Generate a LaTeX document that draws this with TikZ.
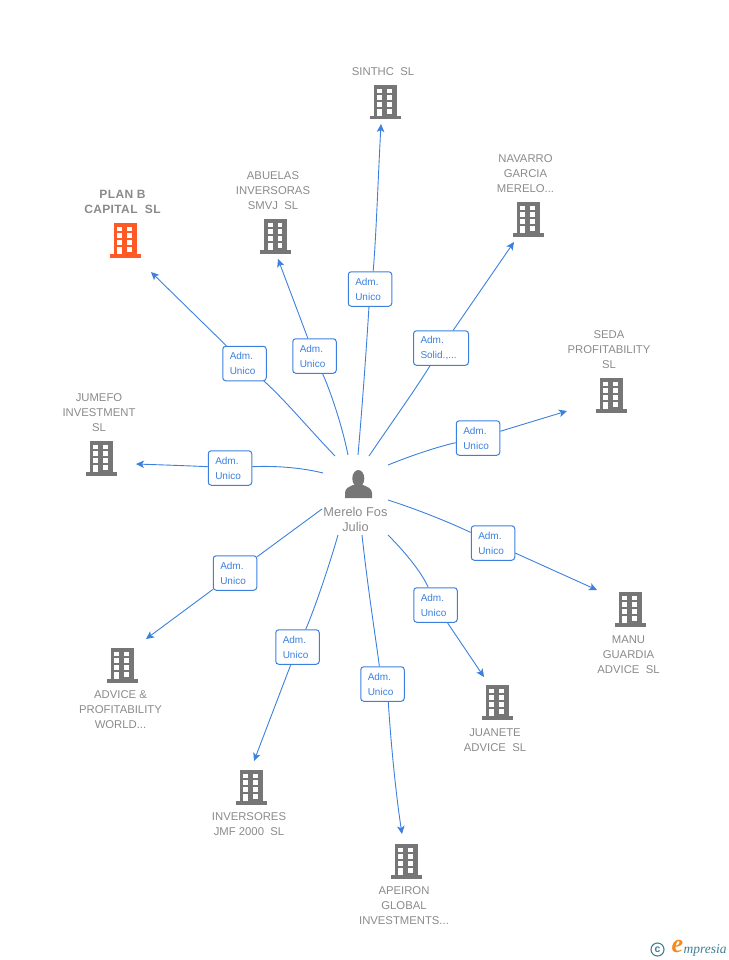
\documentclass[tikz,border=0pt]{standalone}
\usepackage{fontspec}
\setmainfont{Liberation Sans}
\newfontfamily\logofont{Liberation Serif}
\usetikzlibrary{arrows.meta}
\definecolor{linkblue}{HTML}{3C80DF}
\definecolor{iconGrey}{HTML}{767676}
\definecolor{txtGrey}{HTML}{8A8A8A}
\definecolor{planRed}{HTML}{FF5A26}
\definecolor{logoTeal}{HTML}{3F7F95}
\definecolor{logoOrange}{HTML}{F28A1E}
\tikzset{
  x=1pt,y=-1pt,
  rolebox/.style={draw=linkblue,line width=1pt,rounded corners=3pt,fill=white,text width=29.5pt,inner xsep=7pt,inner ysep=0pt,minimum height=34.5pt,text=linkblue,font=\fontsize{10}{15}\selectfont,align=left},
  link/.style={draw=linkblue,line width=0.9pt},
  arrowlink/.style={link,-{Stealth[length=8pt,width=7.5pt,inset=2pt]}},
  firm/.style={text=txtGrey,font=\fontsize{11.3}{15}\selectfont,align=center,inner sep=0pt},
}
\newcommand{\bldg}[4]{%
  \begin{scope}[shift={(#2,#3)}]
    \fill[#4] (-11.5,0) rectangle (11.5,31);
    \fill[#4] (-15.5,31) rectangle (15.5,34.5);
    \foreach \yy in {3.6,10.4,17.2}{
      \fill[white] (-7.8,\yy) rectangle (-3,\yy+4.6);
      \fill[white] (2,\yy) rectangle (6.8,\yy+4.6);
    }
    \fill[white] (-7.8,24) rectangle (-3,31);
    \fill[white] (2,24) rectangle (6.8,28.6);
    \coordinate (#1) at (0,17);
  \end{scope}}
\begin{document}
\begin{tikzpicture}
\useasboundingbox (0,0) rectangle (728,960);
% buildings
\bldg{planbIcon}{125}{223}{planRed}
\bldg{abuelasIcon}{275.5}{219}{iconGrey}
\bldg{sinthcIcon}{385}{85}{iconGrey}
\bldg{navarroIcon}{528}{202}{iconGrey}
\bldg{sedaIcon}{611}{378}{iconGrey}
\bldg{jumefoIcon}{101}{441}{iconGrey}
\bldg{manuIcon}{630}{592}{iconGrey}
\bldg{juaneteIcon}{497}{685}{iconGrey}
\bldg{apeironIcon}{406}{844}{iconGrey}
\bldg{inversoresIcon}{251}{770}{iconGrey}
\bldg{adviceIcon}{122}{648}{iconGrey}
% firm labels
\node[firm,font=\fontsize{12}{15}\selectfont\bfseries\addfontfeature{LetterSpace=3}] (planbT) at (122.5,202) {PLAN B\\CAPITAL\ \ SL};
\node[firm] (abuelasT) at (273,190.7) {ABUELAS\\INVERSORAS\\SMVJ\ \ SL};
\node[firm] (sinthcT) at (383,71.7) {SINTHC\ \ SL};
\node[firm] (navarroT) at (525.5,173.7) {NAVARRO\\GARCIA\\MERELO...};
\node[firm] (sedaT) at (609,349.7) {SEDA\\PROFITABILITY\\SL};
\node[firm] (jumefoT) at (99,412.7) {JUMEFO\\INVESTMENT\\SL};
\node[firm] (manuT) at (628.5,654.7) {MANU\\GUARDIA\\ADVICE\ \ SL};
\node[firm] (juaneteT) at (495,740.2) {JUANETE\\ADVICE\ \ SL};
\node[firm] (apeironT) at (404,905.7) {APEIRON\\GLOBAL\\INVESTMENTS...};
\node[firm] (inversoresT) at (249,824.2) {INVERSORES\\JMF 2000\ \ SL};
\node[firm] (adviceT) at (120.5,709.7) {ADVICE \&\\PROFITABILITY\\WORLD...};
% person
\fill[iconGrey] (345,498) -- (345,493) .. controls (345,488) and (349,487) .. (353,485) -- (363,485) .. controls (367,487) and (372,488) .. (372,493) -- (372,498) -- cycle;
\fill[iconGrey] (358.3,478.5) ellipse (6pt and 8.5pt);
\coordinate (personIcon) at (358,484);
\node[firm,font=\fontsize{12.8}{15}\selectfont] (personT) at (355.5,519.5) {Merelo Fos\\Julio};
% role boxes
\node[rolebox] (r1) at (244.5,363.5) {Adm.\\Unico};
\node[rolebox] (r2) at (314.5,356) {Adm.\\Unico};
\node[rolebox] (r3) at (370,289) {Adm.\\Unico};
\node[rolebox,text width=41pt] (r4) at (441,348) {Adm.\\Solid.,...};
\node[rolebox] (r5) at (478,438) {Adm.\\Unico};
\node[rolebox] (r6) at (230,468) {Adm.\\Unico};
\node[rolebox] (r7) at (493,543) {Adm.\\Unico};
\node[rolebox] (r8) at (435.5,605) {Adm.\\Unico};
\node[rolebox] (r9) at (382.5,684) {Adm.\\Unico};
\node[rolebox] (r10) at (297.5,647) {Adm.\\Unico};
\node[rolebox] (r11) at (235,573) {Adm.\\Unico};
% free ends
\foreach \n/\sx/\sy/\ex/\ey in {1/335/456/151/272,2/348/455/278/259,3/358/455/381/124,4/369/456/514/242,5/388/465/567/411,6/323/473/136/464,7/388/500/597/590,8/388/535/484/677,9/362/535/402/834,10/338/535/254/761,11/322/509/146/639}{
  \coordinate (s\n) at (\sx,\sy);
  \coordinate (e\n) at (\ex,\ey);
}
% connectors
\draw[link] (s1) .. controls (310,430) and (285,400) .. (r1);
\draw[arrowlink] (r1) -- (e1);
\draw[link] (s2) .. controls (342,425) and (330,390) .. (r2);
\draw[arrowlink] (r2) -- (e2);
\draw[link] (s3) .. controls (362,410) and (367,340) .. (r3);
\draw[arrowlink] (r3.80) .. controls (376,240) and (378,180) .. (e3);
\draw[link] (s4) .. controls (390,425) and (415,390) .. (r4);
\draw[arrowlink] (r4) -- (e4);
\draw[link] (s5) .. controls (420,452) and (445,445) .. (r5);
\draw[arrowlink] (r5) -- (e5);
\draw[link] (s6) .. controls (295,466) and (265,466) .. (r6);
\draw[arrowlink] (r6) .. controls (195,466) and (165,465) .. (e6);
\draw[link] (s7) .. controls (425,512) and (455,525) .. (r7);
\draw[arrowlink] (r7) -- (e7);
\draw[link] (s8) .. controls (408,555) and (423,575) .. (r8);
\draw[arrowlink] (r8) -- (e8);
\draw[link] (s9) .. controls (368,590) and (376,640) .. (r9.100);
\draw[arrowlink] (r9.-72) .. controls (391,745) and (396,795) .. (e9);
\draw[link] (s10) .. controls (325,580) and (310,620) .. (r10);
\draw[arrowlink] (r10) -- (e10);
\draw[link] (s11) -- (r11);
\draw[arrowlink] (r11) -- (e11);
% logo
\node[circle,draw=logoTeal,line width=1.1pt,inner sep=0pt,minimum size=13pt,text=logoTeal,font=\bfseries\fontsize{10.5}{10.5}\selectfont] (copyMark) at (657.5,949.5) {c};
\node[inner sep=0pt,text=logoOrange,font=\logofont\itshape\bfseries\fontsize{26}{26}\selectfont] (logoE) at (677.5,946.5) {e};
\node[inner sep=0pt,anchor=west,text=logoTeal,font=\logofont\itshape\fontsize{13.5}{13.5}\selectfont] (logoT) at (683.5,950) {mpresia};
\end{tikzpicture}
\end{document}
